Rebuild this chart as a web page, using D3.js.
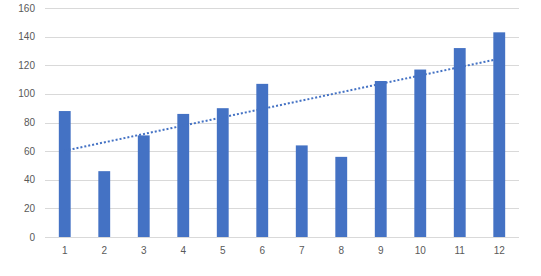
<!DOCTYPE html>
<html>
<head>
<meta charset="utf-8">
<script src="https://cdn.jsdelivr.net/npm/d3@7"></script>
<style>
  body { margin: 0; background: #fff; }
  text { font-family: "Liberation Sans", Arial, sans-serif; font-size: 10px; fill: #595959; }
</style>
</head>
<body>
<svg id="chart" width="541" height="276"></svg>
<script>
const categories = ["1","2","3","4","5","6","7","8","9","10","11","12"]
const values = [88, 46, 71, 86, 90, 107, 64, 56, 109, 117, 132, 143]
const yTicks = [0, 20, 40, 60, 80, 100, 120, 140, 160]

const width = 541, height = 276
const margin = { top: 8, right: 22, bottom: 39, left: 45 }

const svg = d3.select("#chart")

const x = d3.scaleBand()
  .domain(categories)
  .range([margin.left, width - margin.right])
  .paddingInner(0.7)
  .paddingOuter(0.35)

const y = d3.scaleLinear()
  .domain([0, 160])
  .range([height - margin.bottom, margin.top])

// gridlines
svg.append("g")
  .selectAll("line")
  .data(yTicks)
  .join("line")
  .attr("x1", margin.left)
  .attr("x2", width - margin.right)
  .attr("y1", d => Math.round(y(d)) + 0.5)
  .attr("y2", d => Math.round(y(d)) + 0.5)
  .attr("stroke", "#d9d9d9")
  .attr("stroke-width", 1)

// y labels
svg.append("g")
  .selectAll("text")
  .data(yTicks)
  .join("text")
  .attr("x", margin.left - 10)
  .attr("y", d => y(d) + 3.5)
  .attr("text-anchor", "end")
  .text(d => d)

// bars
svg.append("g")
  .selectAll("rect")
  .data(values)
  .join("rect")
  .attr("x", (d, i) => x(categories[i]))
  .attr("width", x.bandwidth())
  .attr("y", d => y(d))
  .attr("height", d => y(0) - y(d))
  .attr("fill", "#4472c4")

// x labels
svg.append("g")
  .selectAll("text")
  .data(categories)
  .join("text")
  .attr("x", d => x(d) + x.bandwidth() / 2)
  .attr("y", height - margin.bottom + 17)
  .attr("text-anchor", "middle")
  .text(d => d)

// linear trendline (least squares on the bar values)
const n = values.length
const xs = d3.range(1, n + 1)
const mx = d3.mean(xs), my = d3.mean(values)
const slope = d3.sum(xs, (xi, i) => (xi - mx) * (values[i] - my)) / d3.sum(xs, xi => (xi - mx) ** 2)
const intercept = my - slope * mx
const trend = [1, n].map(xi => [xi, intercept + slope * xi])

svg.append("path")
  .datum(trend)
  .attr("fill", "none")
  .attr("stroke", "#4472c4")
  .attr("stroke-width", 2)
  .attr("stroke-dasharray", "2 2")
  .attr("d", d3.line()
    .x(d => x(categories[d[0] - 1]) + x.bandwidth() / 2)
    .y(d => y(d[1])))
</script>
</body>
</html>
